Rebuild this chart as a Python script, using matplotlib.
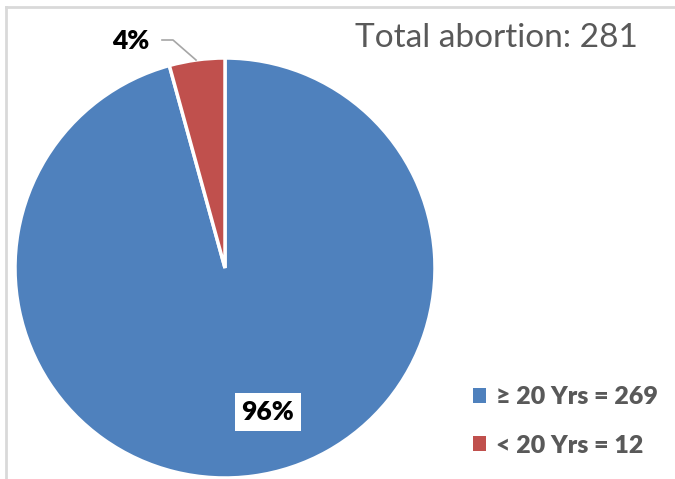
import matplotlib
matplotlib.use('Agg')
import matplotlib.pyplot as plt
from matplotlib.lines import Line2D
from matplotlib.patches import Patch

# Data
groups = ['≥ 20 Yrs', '< 20 Yrs']
counts = [269, 12]
colors = ['#4F81BD', '#C0504D']
total = sum(counts)

plt.rcParams['font.family'] = ['Lato', 'DejaVu Sans']

W, H = 675, 479
fig = plt.figure(figsize=(W / 100, H / 100), dpi=100)
ax = fig.add_axes([0, 0, 1, 1])
ax.set_xlim(0, W)
ax.set_ylim(0, H)
ax.set_aspect('equal')
ax.axis('off')

# Chart border (cropped, only left & top visible)
ax.add_line(Line2D([6, 6], [0, H - 7], color='#D9D9D9', lw=2))
ax.add_line(Line2D([6, W], [H - 7, H - 7], color='#D9D9D9', lw=2))

wedges, _ = ax.pie(counts, colors=colors, startangle=90, counterclock=False,
                   center=(225, H - 268), radius=210,
                   wedgeprops=dict(edgecolor='white', linewidth=2.5))
ax.set_xlim(0, W)
ax.set_ylim(0, H)

pcts = [round(c / total * 100) for c in counts]

# 96% label inside with white box
ax.text(268, H - 412, f'{pcts[0]}%', ha='center', va='center', fontsize=19,
        fontweight='heavy', color='black',
        bbox=dict(facecolor='white', edgecolor='none', pad=5))

# 4% label outside with leader line
ax.text(131, H - 41, f'{pcts[1]}%', ha='center', va='center', fontsize=19,
        fontweight='heavy', color='black')
ax.add_line(Line2D([162, 173, 196], [H - 40, H - 40, H - 60], color='#A6A6A6', lw=1.2))

# Title
ax.text(638, H - 38, f'Total abortion: {total}', ha='right', va='center',
        fontsize=24, color='#595959')

# Legend
handles = [Patch(facecolor=c, edgecolor='none') for c in colors]
labels = [f'{g} = {n}' for g, n in zip(groups, counts)]
leg = ax.legend(handles, labels, loc='upper left', bbox_to_anchor=(450 / W, 1 - 364 / H),
                frameon=False, handlelength=0.55, handleheight=0.55, handletextpad=0.4,
                labelspacing=1.05, prop={'size': 18, 'weight': 'heavy'})
for t in leg.get_texts():
    t.set_color('#595959')

fig.savefig('out.png', dpi=100)
